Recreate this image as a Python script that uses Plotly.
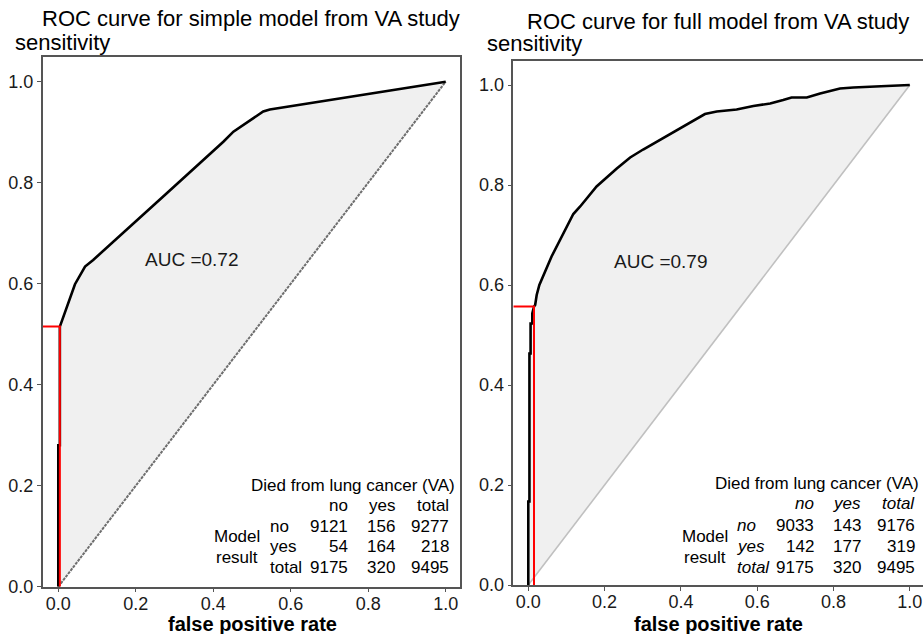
import plotly.graph_objects as go

# ---------------- data ----------------
simple_fpr = [0, 0, 0.004, 0.004, 0.043, 0.069, 0.09, 0.202, 0.28, 0.426, 0.452, 0.529, 0.546, 1.0]
simple_tpr = [0, 0.28, 0.28, 0.515, 0.599, 0.634, 0.647, 0.726, 0.779, 0.881, 0.901, 0.941, 0.945, 1.0]
simple_cut = (0.004, 0.515)
simple_auc = 0.72

full_fpr = [0, 0, 0.003, 0.003, 0.006, 0.006, 0.0105, 0.0105, 0.015, 0.018, 0.022, 0.029, 0.061, 0.083,
            0.118, 0.136, 0.179, 0.232, 0.267, 0.301, 0.363, 0.406, 0.463, 0.494, 0.546, 0.59, 0.634,
            0.668, 0.69, 0.73, 0.765, 0.817, 0.852, 0.939, 1.0]
full_tpr = [0, 0.167, 0.167, 0.463, 0.463, 0.523, 0.523, 0.543, 0.557, 0.56, 0.58, 0.6, 0.657, 0.69,
            0.742, 0.757, 0.797, 0.833, 0.855, 0.871, 0.898, 0.918, 0.942, 0.947, 0.951, 0.958, 0.963,
            0.97, 0.975, 0.975, 0.983, 0.993, 0.995, 0.998, 1.0]
full_cut = (0.015, 0.557)
full_auc = 0.79

diag = [0, 1]
tick_vals = [0.0, 0.2, 0.4, 0.6, 0.8, 1.0]

table_title = "Died from lung cancer (VA)"
col_headers = ["no", "yes", "total"]
row_headers = ["no", "yes", "total"]
simple_counts = [[9121, 156, 9277], [54, 164, 218], [9175, 320, 9495]]
full_counts = [[9033, 143, 9176], [142, 177, 319], [9175, 320, 9495]]

titles = ["ROC curve for simple model from VA study", "ROC curve for full model from VA study"]
ylabel = "sensitivity"
xlabel = "false positive rate"

# ---------------- layout helpers ----------------
W, H = 923, 634
def px(x):
    return x / W
def py(y):
    return 1 - y / H

FONT = "Liberation Sans, Arial, sans-serif"
FRAME = "#555555"
x1_range = [-0.0403, 1.0377]
x2_range = [-0.0393, 1.0346]

fig = go.Figure()

def add_panel(fpr, tpr, cut, xa, ya, xr, diag_style):
    fig.add_trace(go.Scatter(x=fpr, y=tpr, xaxis=xa, yaxis=ya, mode="lines", fill="toself",
                             fillcolor="#F0F0F0", line=dict(width=0), hoverinfo="skip", showlegend=False))
    fig.add_trace(go.Scatter(x=diag, y=diag, xaxis=xa, yaxis=ya, mode="lines",
                             line=diag_style, hoverinfo="skip", showlegend=False))
    fig.add_trace(go.Scatter(x=fpr, y=tpr, xaxis=xa, yaxis=ya, mode="lines",
                             line=dict(color="black", width=2.6), showlegend=False))
    fig.add_trace(go.Scatter(x=[xr[0], cut[0], cut[0]], y=[cut[1], cut[1], 0], xaxis=xa, yaxis=ya,
                             mode="lines", line=dict(color="#FF0000", width=2), showlegend=False))

add_panel(simple_fpr, simple_tpr, simple_cut, "x", "y", x1_range,
          dict(color="#6E6E6E", width=2, dash="3px,1px"))
add_panel(full_fpr, full_tpr, full_cut, "x2", "y2", x2_range,
          dict(color="#C0C0C0", width=1.6))

axis_common = dict(showgrid=False, zeroline=False, showline=True, linecolor=FRAME, linewidth=1.5,
                   ticks="outside", ticklen=4, tickcolor=FRAME, tickwidth=1.2,
                   tickvals=tick_vals, tickformat=".1f",
                   tickfont=dict(family=FONT, size=18, color="#1a1a1a"))
xaxis_extra = dict(ticklabelstandoff=-4)

fig.update_layout(
    width=W, height=H, autosize=False, margin=dict(l=0, r=0, t=0, b=0, autoexpand=False),
    paper_bgcolor="white", plot_bgcolor="white", showlegend=False,
    xaxis=dict(domain=[px(42.7), px(460.3)], range=x1_range, anchor="y", mirror=True,
               **axis_common, **xaxis_extra),
    yaxis=dict(domain=[py(586.7), py(57)], range=[0, 1.0489], anchor="x", mirror=True, **axis_common),
    xaxis2=dict(domain=[px(513.3), 1.0], range=x2_range, anchor="y2", mirror=True,
                **axis_common, **xaxis_extra),
    yaxis2=dict(domain=[py(585), py(61)], range=[0, 1.048], anchor="x2", mirror=False, **axis_common),
)

ann = []
def text(x, y, s, size, xanchor="center", yanchor="middle"):
    ann.append(dict(x=x, y=y, xref="paper", yref="paper", text=s, showarrow=False,
                    xanchor=xanchor, yanchor=yanchor,
                    font=dict(family=FONT, size=size, color="black")))

# titles and axis labels
text(px(251), py(18), titles[0], 22)
text(px(717.5), py(21), titles[1], 22)
text(px(13), py(42), ylabel, 22, "left")
text(px(485), py(43), ylabel, 22, "left")
text(px(252), py(623.5), "<b>" + xlabel + "</b>", 20)
text(px(718), py(623.5), "<b>" + xlabel + "</b>", 20)

# AUC labels (data coords)
ann.append(dict(x=0.345, y=0.647, xref="x", yref="y", text=f"AUC ={simple_auc:.2f}", showarrow=False,
                font=dict(family=FONT, size=19, color="#1a1a1a")))
ann.append(dict(x=0.3465, y=0.647, xref="x2", yref="y2", text=f"AUC ={full_auc:.2f}", showarrow=False,
                font=dict(family=FONT, size=19, color="#1a1a1a")))

def add_table(counts, title_x, header_y, col_right, row_left, model_x, row_y, italic):
    fs = 17
    def fmt(s):
        return f"<i>{s}</i>" if italic else s
    text(px(title_x), py(header_y - 20.5), table_title, fs, "right")
    for j, h in enumerate(col_headers):
        text(px(col_right[j]), py(header_y), fmt(h), fs, "right")
    for i, r in enumerate(row_headers):
        text(px(row_left), py(row_y[i]), fmt(r), fs, "left")
        for j in range(3):
            text(px(col_right[j]), py(row_y[i]), str(counts[i][j]), fs, "right")
    text(px(model_x), py(536.7), "Model", fs)
    text(px(model_x), py(557), "result", fs)

add_table(simple_counts, 457, 505.5, [350, 396.5, 450.5], 268, 237, [526, 546.7, 567.7], False)
add_table(full_counts, 920.5, 503.5, [816, 862.5, 917], 735, 704.5, [525.5, 546.7, 567.7], True)

fig.update_layout(annotations=ann)
fig.write_html("out.html", config={"responsive": False})
